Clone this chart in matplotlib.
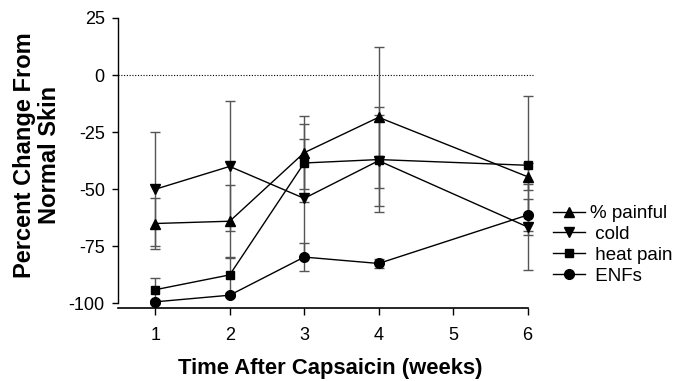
import matplotlib
matplotlib.use("Agg")
import matplotlib.pyplot as plt

plt.rcParams["font.family"] = ["Liberation Sans", "DejaVu Sans"]
plt.rcParams["axes.unicode_minus"] = False

weeks = [1, 2, 3, 4, 6]

painful = [-65, -64, -34, -18.5, -44.5]
painful_err = [11, 16, 16, 31, 6]

cold = [-50, -40, -54, -37.5, -66.5]
cold_err = [25, 28.5, 26, 20, 19]

heat = [-94, -87.5, -38.5, -37, -39.5]
heat_err = [5, 8, 17, 23, 30.5]

enfs = [-99.3, -96.4, -79.7, -82.5, -61.3]
enfs_err = [1, 1, 6.3, 2, 7]

series = [
    ("% painful", painful, painful_err, "^", 7),
    (" cold", cold, cold_err, "v", 7),
    (" heat pain", heat, heat_err, "s", 6),
    (" ENFs", enfs, enfs_err, "o", 7),
]

fig = plt.figure(figsize=(6.81, 3.81), dpi=100)
ax = fig.add_axes([0.1733, 0.1916, 0.6123, 0.7612])

ax.axhline(0, color="black", lw=0.8, ls=(0, (1, 1.5)), zorder=1)

for label, vals, err, mk, ms in series:
    ax.errorbar(weeks, vals, yerr=err, fmt="none", ecolor="#555555",
                elinewidth=1, capsize=3.5, capthick=1, zorder=2)
    ax.plot(weeks, vals, color="black", lw=1, marker=mk, ms=ms,
            mfc="black", mec="black", label=label, zorder=3)

ax.set_xlim(0.5, 6.1)
ax.set_ylim(-102, 25)
ax.set_xticks([1, 2, 3, 4, 5, 6])
ax.set_yticks([25, 0, -25, -50, -75, -100])
ax.tick_params(axis="both", labelsize=13, width=1, color="black")
ax.tick_params(axis="x", length=5, pad=9)
ax.tick_params(axis="y", length=4.5, pad=5)

for s in ["top", "right"]:
    ax.spines[s].set_visible(False)
ax.spines["left"].set_bounds(-100, 25)
ax.spines["bottom"].set_bounds(0.5, 6)
ax.spines["left"].set_linewidth(1)
ax.spines["bottom"].set_linewidth(1.2)

fig.text(0.054, 0.593, "Percent Change From\nNormal Skin", rotation=90,
         ha="center", va="center", fontsize=17, fontweight="bold",
         multialignment="center", linespacing=1.1)
fig.text(0.485, 0.032, "Time After Capsaicin (weeks)", ha="center",
         va="center", fontsize=15.8, fontweight="bold")

ax.legend(loc="upper left", bbox_to_anchor=(0.812, 0.462),
          bbox_transform=fig.transFigure, frameon=False, fontsize=13.5,
          handlelength=1.7, handletextpad=0.3, labelspacing=0.2,
          borderpad=0, borderaxespad=0)

fig.savefig("out.png", dpi=100)
